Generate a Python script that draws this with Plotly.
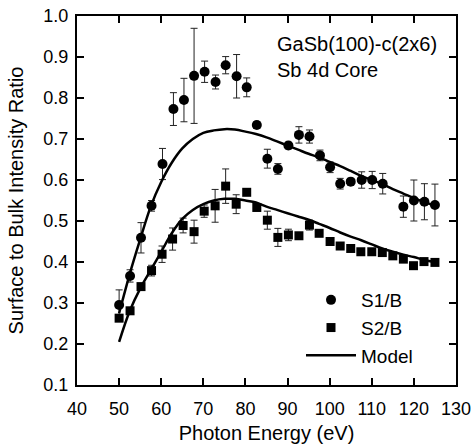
import plotly.graph_objects as go

# S1/B surface-to-bulk ratio (photon energy in eV)
energy_s1 = [50.0, 52.6, 55.2, 57.7, 60.3, 62.9, 65.4, 67.8, 70.3, 72.9, 75.3, 77.9,
             80.3, 82.7, 85.2, 87.7, 90.2, 92.7, 95.2, 97.7, 100.1, 102.5, 105.0,
             107.6, 110.1, 112.6, 117.5, 120.0, 122.5, 125.0]
ratio_s1 = [0.295, 0.366, 0.459, 0.537, 0.639, 0.773, 0.795, 0.854, 0.864, 0.839,
            0.880, 0.853, 0.826, 0.734, 0.652, 0.627, 0.684, 0.710, 0.706, 0.660,
            0.631, 0.591, 0.596, 0.600, 0.600, 0.591, 0.535, 0.550, 0.547, 0.539]
err_s1 = [0.037, 0.015, 0.037, 0.013, 0.038, 0.040, 0.053, 0.116, 0.026, 0.017,
          0.021, 0.053, 0.023, 0.008, 0.023, 0.013, 0.008, 0.020, 0.016, 0.013,
          0.013, 0.013, 0.008, 0.020, 0.021, 0.025, 0.026, 0.050, 0.044, 0.051]

# S2/B surface-to-bulk ratio
energy_s2 = [50.0, 52.6, 55.2, 57.7, 60.2, 62.7, 65.2, 67.8, 70.2, 72.8, 75.3, 77.8,
             80.3, 82.7, 85.2, 87.7, 90.2, 92.7, 95.2, 97.5, 100.1, 102.5, 105.0,
             107.4, 110.0, 112.5, 115.0, 117.5, 119.9, 122.4, 125.0]
ratio_s2 = [0.263, 0.281, 0.340, 0.379, 0.419, 0.456, 0.489, 0.474, 0.524, 0.537,
            0.585, 0.541, 0.570, 0.533, 0.502, 0.460, 0.466, 0.464, 0.490, 0.470,
            0.450, 0.439, 0.433, 0.425, 0.425, 0.423, 0.415, 0.407, 0.391, 0.401,
            0.399]
err_s2 = [0.0, 0.0, 0.0, 0.013, 0.020, 0.027, 0.018, 0.028, 0.015, 0.040, 0.042,
          0.023, 0.0, 0.0, 0.022, 0.022, 0.014, 0.0, 0.012, 0.0, 0.0, 0.0, 0.0,
          0.0, 0.0, 0.0, 0.0, 0.0, 0.0, 0.0, 0.0]

# Model curves
energy_model = [50.0, 52.5, 55.0, 57.5, 60.0, 62.5, 65.0, 67.5, 70.0, 72.5, 75.0,
                77.5, 80.0, 82.5, 85.0, 87.5, 90.0, 92.5, 95.0, 97.5, 100.0, 102.5,
                105.0, 107.5, 110.0, 112.5, 115.0, 117.5, 120.0, 122.5, 125.0]
model_s1 = [0.275, 0.370, 0.455, 0.535, 0.595, 0.642, 0.677, 0.700, 0.715, 0.721,
            0.724, 0.723, 0.718, 0.712, 0.704, 0.694, 0.684, 0.674, 0.664, 0.655,
            0.644, 0.634, 0.622, 0.610, 0.600, 0.590, 0.578, 0.567, 0.556, 0.546,
            0.537]
model_s2 = [0.205, 0.280, 0.335, 0.380, 0.425, 0.470, 0.505, 0.527, 0.541, 0.550,
            0.554, 0.554, 0.550, 0.545, 0.535, 0.527, 0.519, 0.511, 0.503, 0.493,
            0.483, 0.472, 0.462, 0.453, 0.443, 0.433, 0.425, 0.418, 0.412, 0.405,
            0.400]

x_ticks = [40, 50, 60, 70, 80, 90, 100, 110, 120, 130]
y_ticks = [0.1, 0.2, 0.3, 0.4, 0.5, 0.6, 0.7, 0.8, 0.9, 1.0]

FONT = "Liberation Sans, Arial, sans-serif"
INK = "black"

fig = go.Figure()

fig.add_trace(go.Scatter(
    x=energy_s1, y=ratio_s1, mode="markers", name="S1/B",
    marker=dict(symbol="circle", size=10, color=INK),
    error_y=dict(type="data", array=err_s1, visible=True,
                 color="#222", thickness=1, width=3.5),
))
fig.add_trace(go.Scatter(
    x=energy_s2, y=ratio_s2, mode="markers", name="S2/B",
    marker=dict(symbol="square", size=9, color=INK),
    error_y=dict(type="data", array=err_s2, visible=True,
                 color="#222", thickness=1, width=3.5),
))
fig.add_trace(go.Scatter(
    x=energy_model, y=model_s1, mode="lines", name="Model",
    line=dict(color=INK, width=2.5, shape="spline"),
))
fig.add_trace(go.Scatter(
    x=energy_model, y=model_s2, mode="lines", name="Model", showlegend=False,
    line=dict(color=INK, width=2.5, shape="spline"),
))

axis_common = dict(
    showline=True, linecolor=INK, linewidth=2, mirror="ticks",
    ticks="inside", ticklen=7, tickwidth=1.5, tickcolor=INK,
    showgrid=False, zeroline=False, automargin=False,
    ticklabeloverflow="allow",
    tickfont=dict(family=FONT, size=18, color=INK),
)

fig.update_xaxes(
    range=[40, 130], tickvals=x_ticks, ticktext=[str(v) for v in x_ticks],
    title=dict(text="Photon Energy (eV)", font=dict(family=FONT, size=20, color=INK),
               standoff=12),
    ticklabelstandoff=6,
    **axis_common,
)
fig.update_yaxes(
    range=[0.1, 1.0], tickvals=y_ticks, ticktext=[f"{v:.1f}" for v in y_ticks],
    title=dict(text="Surface to Bulk Intensity Ratio",
               font=dict(family=FONT, size=20, color=INK), standoff=14),
    ticklabelstandoff=3,
    **axis_common,
)

fig.add_annotation(
    xref="paper", yref="paper", x=(275 - 77) / 379, y=(385 - 31) / 369,
    xanchor="left", yanchor="top", align="left", showarrow=False,
    text="GaSb(100)-c(2x6)<br>Sb 4d Core",
    font=dict(family=FONT, size=20, color=INK),
)

fig.update_layout(
    width=471, height=444,
    margin=dict(l=77, r=15, t=16, b=59),
    paper_bgcolor="white", plot_bgcolor="white",
    font=dict(family=FONT, color=INK),
    legend=dict(
        x=(301 - 77) / 379, y=(385 - 281) / 369, xanchor="left", yanchor="top",
        bgcolor="rgba(0,0,0,0)", font=dict(family=FONT, size=19, color=INK),
        itemwidth=50,
    ),
)

fig.write_html("out.html")
